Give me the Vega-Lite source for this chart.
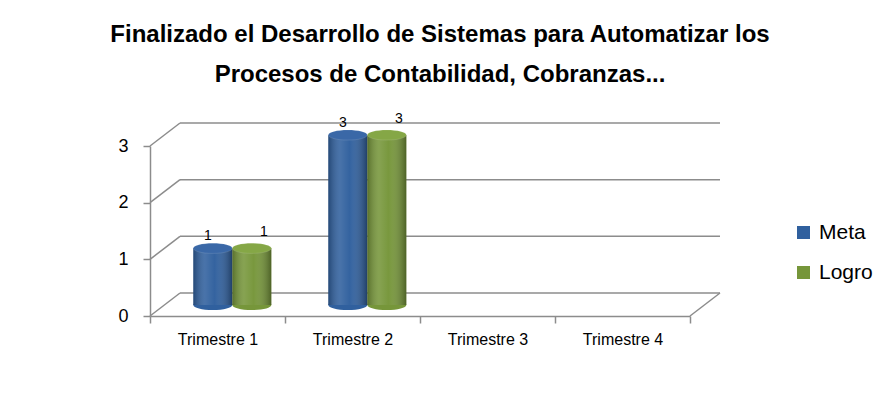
{
  "$schema": "https://vega.github.io/schema/vega-lite/v6.json",
  "width": 540,
  "height": 170,
  "autosize": {"type": "none"},
  "padding": {"left": 150, "top": 146, "right": 190, "bottom": 88},
  "background": "white",
  "config": {
    "font": "Liberation Sans",
    "view": {"stroke": null}
  },
  "title": {
    "text": ["Finalizado el Desarrollo de Sistemas para Automatizar los", "Procesos de Contabilidad, Cobranzas..."],
    "font": "Liberation Sans",
    "fontSize": 24,
    "fontWeight": "bold",
    "color": "#000000",
    "lineHeight": 40,
    "anchor": "middle",
    "dx": 20,
    "offset": 25
  },
  "datasets": {
    "bars": [
      {"Trimestre": "Trimestre 1", "Serie": "Meta", "valor": 1},
      {"Trimestre": "Trimestre 1", "Serie": "Logro", "valor": 1},
      {"Trimestre": "Trimestre 2", "Serie": "Meta", "valor": 3},
      {"Trimestre": "Trimestre 2", "Serie": "Logro", "valor": 3}
    ],
    "levels": [{"level": 0}, {"level": 1}, {"level": 2}, {"level": 3}]
  },
  "resolve": {"scale": {"x": "independent"}},
  "layer": [
    {
      "data": {"name": "levels"},
      "layer": [
        {
          "mark": {"type": "rule", "color": "#8c8c8c", "strokeWidth": 1.5, "x2Offset": 30, "y2Offset": -23},
          "encoding": {
            "x": {"datum": 0, "type": "quantitative", "scale": {"domain": [0, 1]}, "axis": null},
            "x2": {"datum": 0},
            "y": {
              "field": "level",
              "type": "quantitative",
              "scale": {"domain": [0, 3], "nice": false},
              "axis": {
                "title": null,
                "values": [0, 1, 2, 3],
                "format": "d",
                "grid": false,
                "labelFontSize": 18,
                "labelColor": "#000000",
                "labelPadding": 15,
                "tickSize": 7,
                "tickColor": "#8c8c8c",
                "domainColor": "#8c8c8c",
                "domainWidth": 1.5,
                "tickWidth": 1.5
              }
            },
            "y2": {"field": "level"}
          }
        },
        {
          "mark": {"type": "rule", "color": "#8c8c8c", "strokeWidth": 1.5, "xOffset": 30, "x2Offset": 30, "yOffset": -23, "y2Offset": -23},
          "encoding": {
            "x": {"datum": 0, "type": "quantitative", "axis": null},
            "x2": {"datum": 1},
            "y": {"field": "level", "type": "quantitative"},
            "y2": {"field": "level"}
          }
        },
        {
          "transform": [{"filter": "datum.level == 0"}],
          "mark": {"type": "rule", "color": "#8c8c8c", "strokeWidth": 1.5, "x2Offset": 30, "y2Offset": -23},
          "encoding": {
            "x": {"datum": 1, "type": "quantitative", "axis": null},
            "x2": {"datum": 1},
            "y": {"field": "level", "type": "quantitative"},
            "y2": {"field": "level"}
          }
        }
      ]
    },
    {
      "data": {"name": "bars"},
      "encoding": {
        "x": {
          "field": "Trimestre",
          "type": "nominal",
          "scale": {"domain": ["Trimestre 1", "Trimestre 2", "Trimestre 3", "Trimestre 4"], "paddingInner": 0, "paddingOuter": 0},
          "axis": {
            "title": null,
            "labelAngle": 0,
            "tickBand": "extent",
            "labelFontSize": 16,
            "labelColor": "#000000",
            "labelPadding": 8,
            "tickSize": 7,
            "tickColor": "#8c8c8c",
            "domainColor": "#8c8c8c",
            "domainWidth": 1.5,
            "tickWidth": 1.5
          }
        },
        "xOffset": {
          "field": "Serie",
          "type": "nominal",
          "scale": {"domain": ["Meta", "Logro"], "paddingInner": 0, "paddingOuter": 0.73, "align": 0.76}
        },
        "y": {
          "field": "valor",
          "type": "quantitative"
        }
      },
      "layer": [
        {
          "mark": {"type": "point", "shape": "M -1 0 A 1 0.26 0 1 1 1 0 A 1 0.26 0 1 1 -1 0 Z", "size": 1521, "filled": true, "opacity": 1, "yOffset": -11},
          "encoding": {
            "y": {"datum": 0, "type": "quantitative"},
            "color": {
              "field": "Serie",
              "type": "nominal",
              "scale": {"domain": ["Meta", "Logro"], "range": ["#30609e", "#76963a"]},
              "legend": {
                "title": null,
                "orient": "none",
                "legendX": 643,
                "legendY": 76,
                "symbolType": "square",
                "symbolSize": 169,
                "symbolStrokeWidth": 0,
                "symbolOpacity": 1,
                "labelFontSize": 21,
                "labelColor": "#000000",
                "labelOffset": 5,
                "rowPadding": 18,
                "padding": 0
              }
            }
          }
        },
        {
          "mark": {"type": "bar", "yOffset": -11, "y2Offset": -11},
          "encoding": {
            "color": {"field": "Serie", "type": "nominal"}
          }
        },
        {
          "mark": {
            "type": "bar",
            "yOffset": -11,
            "y2Offset": -11,
            "fill": {
              "gradient": "linear",
              "x1": 0, "x2": 1, "y1": 0, "y2": 0,
              "stops": [
                {"offset": 0, "color": "rgba(0,0,0,0.25)"},
                {"offset": 0.3, "color": "rgba(255,255,255,0.12)"},
                {"offset": 0.55, "color": "rgba(255,255,255,0.02)"},
                {"offset": 1, "color": "rgba(0,0,0,0.35)"}
              ]
            }
          },
          "encoding": {}
        },
        {
          "mark": {"type": "point", "shape": "M -1 0 A 1 0.26 0 1 1 1 0 A 1 0.26 0 1 1 -1 0 Z", "size": 1521, "filled": true, "opacity": 1, "yOffset": -11, "stroke": "#ffffff", "strokeOpacity": 0.15, "strokeWidth": 0.8},
          "encoding": {
            "fill": {"field": "Serie", "type": "nominal", "scale": {"domain": ["Meta", "Logro"], "range": ["#3a68a7", "#85a746"]}, "legend": null}
          }
        },
        {
          "transform": [{"filter": "datum.Serie == 'Meta'"}],
          "mark": {"type": "text", "fontSize": 14, "fill": "#000000", "yOffset": -23, "dx": -5},
          "encoding": {
            "text": {"field": "valor", "type": "quantitative"}
          }
        },
        {
          "transform": [{"filter": "datum.Serie == 'Logro'"}],
          "mark": {"type": "text", "fontSize": 14, "fill": "#000000", "yOffset": -27, "dx": 12},
          "encoding": {
            "text": {"field": "valor", "type": "quantitative"}
          }
        }
      ]
    }
  ]
}
